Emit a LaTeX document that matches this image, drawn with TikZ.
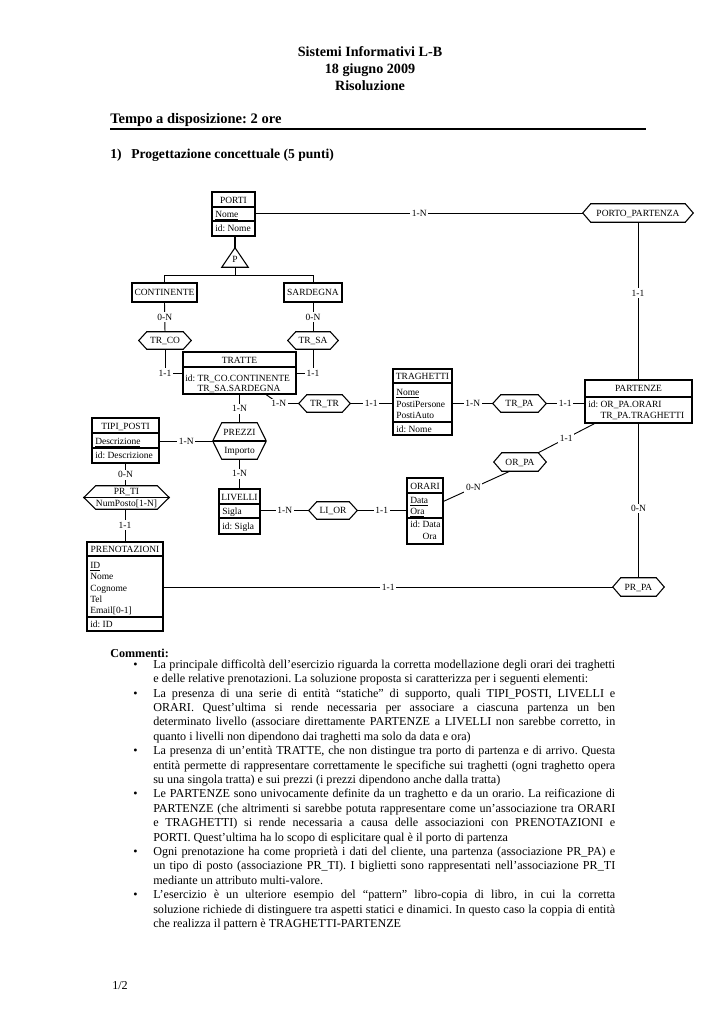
\documentclass[tikz,border=0pt]{standalone}
\usepackage{fontspec}
\setmainfont{Liberation Serif}
\usetikzlibrary{fit,calc}
\frenchspacing
\newcommand\dfont{\fontsize{7.1pt}{8.5pt}\selectfont}
\newcommand\bfont{\fontsize{9.1pt}{10.8pt}\selectfont}
\newcommand\bul{\leavevmode\llap{\makebox[15pt][l]{\textbullet}}}
\newcommand\entity[5]{\node[ent, fit={(#2,#3)(#4,#5)}] (#1) {};}
\newcommand\esep[2]{\draw[sepline] (#1.west |- 0,#2) -- (#1.east |- 0,#2);}
\newcommand\hexa[6]{%
  \node[fit={(#2,#4)(#3,#5)}] (#1) {};
  \draw[hexline] (#1.west) -- ($(#1.north west)+(#6,0)$) -- ($(#1.north east)+(-#6,0)$) -- (#1.east) -- ($(#1.south east)+(-#6,0)$) -- ($(#1.south west)+(#6,0)$) -- cycle;}
\begin{document}
\begin{tikzpicture}[x=0.75pt,y=-0.75pt,
  every node/.style={inner sep=0pt},
  dt/.style={font=\dfont, text height=4.8pt, text depth=0pt},
  ttl/.style={font=\fontsize{10.6pt}{12pt}\selectfont\bfseries, text height=7.2pt, text depth=0pt},
  hd/.style={font=\fontsize{10.9pt}{12pt}\selectfont\bfseries, text height=7.4pt, text depth=0pt},
  hdb/.style={font=\fontsize{10.2pt}{12pt}\selectfont\bfseries, text height=6.9pt, text depth=0pt},
  bt/.style={font=\bfont, text height=6.2pt, text depth=0pt},
  ent/.style={draw, line width=1.1pt, inner sep=0pt},
  sepline/.style={line width=0.8pt},
  conn/.style={line width=0.7pt},
  hexline/.style={line width=0.8pt},
  card/.style={dt, fill=white, inner xsep=1.2pt, inner ysep=1.2pt},
]
\fill[white] (0,0) rectangle (724,1024);
\useasboundingbox (0,0) rectangle (724,1024);

% ---------- header ----------
\node[ttl] (t1) at (370,52) {Sistemi Informativi L-B};
\node[ttl] (t2) at (370,69) {18 giugno 2009};
\node[ttl] (t3) at (370,86) {Risoluzione};
\node[hd, anchor=west] (tempo) at (110,119) {Tempo a disposizione: 2 ore};
\draw[line width=1.5pt] (110,129) -- (646,129);
\node[hdb, anchor=west] (num) at (110,154) {1)};
\node[hdb, anchor=west] (prog) at (131,154) {Progettazione concettuale (5 punti)};

% ---------- PORTI and hierarchy ----------
\entity{porti}{212}{192}{255}{236}
\esep{porti}{207}\esep{porti}{221}
\node[dt] (porti-h) at (233.5,200) {PORTI};
\node[dt, anchor=west] (porti-a) at (215,214) {\underline{Nome}};
\node[dt, anchor=west] (porti-i) at (215,228) {id: Nome};

\node[fit={(222,248)(248,267)}] (isa) {};
\draw[hexline] (isa.north) -- (isa.south east) -- (isa.south west) -- cycle;
\node[dt] (isa-p) at (235,259) {P};
\draw[line width=2.2pt] (isa.north |- porti.south) -- (isa.north);

\entity{cont}{132}{283}{197}{302}
\node[dt] (cont-h) at (164.5,292.5) {CONTINENTE};
\entity{sard}{284}{283}{342}{302}
\node[dt] (sard-h) at (313,292.5) {SARDEGNA};
\coordinate (hj) at (235,275);
\draw[conn] (isa.south) -- (hj);
\draw[conn] (cont.north |- hj) -- (sard.north |- hj);
\draw[conn] (cont.north |- hj) -- (cont.north);
\draw[conn] (sard.north |- hj) -- (sard.north);

% ---------- PORTO_PARTENZA ----------
\hexa{pp}{583}{693}{204}{222}{8}
\node[dt] (pp-t) at (638,213) {PORTO\_PARTENZA};

% ---------- TR_CO / TR_SA ----------
\hexa{trco}{139}{191}{332}{349}{8}
\node[dt] (trco-t) at (165,340.5) {TR\_CO};
\hexa{trsa}{288}{338}{332}{349}{8}
\node[dt] (trsa-t) at (313,340.5) {TR\_SA};

% ---------- TRATTE ----------
\entity{tratte}{183}{352}{296}{394}
\esep{tratte}{367}
\node[dt] (tratte-h) at (239.5,360) {TRATTE};
\node[dt, anchor=west] (tratte-i1) at (185,378) {id: TR\_CO.CONTINENTE};
\node[dt, anchor=west] (tratte-i2) at (185,388) {\phantom{id: }TR\_SA.SARDEGNA};

% ---------- PREZZI ----------
\hexa{prezzi}{213}{266}{423}{459}{9}
\draw[hexline] (prezzi.west) -- (prezzi.east);
\node[dt] (prezzi-t) at (239.5,432) {PREZZI};
\node[dt] (prezzi-a) at (239.5,450) {Importo};

% ---------- TR_TR ----------
\hexa{trtr}{299}{350}{395}{412}{8}
\node[dt] (trtr-t) at (324.5,403.5) {TR\_TR};

% ---------- TRAGHETTI ----------
\entity{trag}{393}{369}{452}{435}
\esep{trag}{383}\esep{trag}{422}
\node[dt] (trag-h) at (422.5,376) {TRAGHETTI};
\node[dt, anchor=west] (trag-a1) at (396,392) {\underline{Nome}};
\node[dt, anchor=west] (trag-a2) at (396,404) {PostiPersone};
\node[dt, anchor=west] (trag-a3) at (396,415) {PostiAuto};
\node[dt, anchor=west] (trag-i) at (396,429) {id: Nome};

% ---------- TR_PA ----------
\hexa{trpa}{493}{546}{395}{412}{8}
\node[dt] (trpa-t) at (519.5,403.5) {TR\_PA};

% ---------- PARTENZE ----------
\entity{part}{585}{380}{692}{423}
\esep{part}{397}
\node[dt] (part-h) at (638.5,388) {PARTENZE};
\node[dt, anchor=west] (part-i1) at (588,404) {id: OR\_PA.ORARI};
\node[dt, anchor=west] (part-i2) at (588,415) {\phantom{id: }TR\_PA.TRAGHETTI};

% ---------- OR_PA ----------
\hexa{orpa}{494}{546}{453}{471}{8}
\node[dt] (orpa-t) at (520,462) {OR\_PA};

% ---------- ORARI ----------
\entity{orari}{407}{478}{443}{544}
\esep{orari}{493}\esep{orari}{518}
\node[dt] (orari-h) at (425,486) {ORARI};
\node[dt, anchor=west] (orari-a1) at (410,500) {\underline{Data}};
\node[dt, anchor=west] (orari-a2) at (410,511) {\underline{Ora}};
\node[dt, anchor=west] (orari-i1) at (410,524) {id: Data};
\node[dt, anchor=west] (orari-i2) at (410,536) {\phantom{id: }Ora};

% ---------- TIPI_POSTI ----------
\entity{tipi}{92}{418}{159}{463}
\esep{tipi}{433}\esep{tipi}{448}
\node[dt] (tipi-h) at (125.5,426) {TIPI\_POSTI};
\node[dt, anchor=west] (tipi-a) at (95,441) {\underline{Descrizione}};
\node[dt, anchor=west] (tipi-i) at (95,455) {id: Descrizione};

% ---------- PR_TI ----------
\hexa{prti}{84}{169}{486}{509}{12}
\draw[hexline] (prti.west) -- (prti.east);
\node[dt] (prti-t) at (126.5,491.5) {PR\_TI};
\node[dt] (prti-a) at (126.5,503) {NumPosto[1-N]};

% ---------- LIVELLI ----------
\entity{liv}{219}{489}{260}{534}
\esep{liv}{504}\esep{liv}{518}
\node[dt] (liv-h) at (239.5,497) {LIVELLI};
\node[dt, anchor=west] (liv-a) at (222,511) {\underline{Sigla}};
\node[dt, anchor=west] (liv-i) at (222,526) {id: Sigla};

% ---------- LI_OR ----------
\hexa{lior}{309}{357}{502}{519}{8}
\node[dt] (lior-t) at (333,510.5) {LI\_OR};

% ---------- PRENOTAZIONI ----------
\entity{pren}{87}{542}{163}{631}
\esep{pren}{556}\esep{pren}{617}
\node[dt] (pren-h) at (125,549) {PRENOTAZIONI};
\node[dt, anchor=west] (pren-a1) at (90,565) {\underline{ID}};
\node[dt, anchor=west] (pren-a2) at (90,576) {Nome};
\node[dt, anchor=west] (pren-a3) at (90,588) {Cognome};
\node[dt, anchor=west] (pren-a4) at (90,599) {Tel};
\node[dt, anchor=west] (pren-a5) at (90,610) {Email[0-1]};
\node[dt, anchor=west] (pren-i) at (90,624) {id: ID};

% ---------- PR_PA ----------
\hexa{prpa}{613}{664}{578}{596}{8}
\node[dt] (prpa-t) at (638.5,587) {PR\_PA};

% ---------- connectors ----------
\draw[conn] (pp.west -| porti.east) -- (pp.west) node[card, midway] (l-pp1) {1-N};
\draw[conn] (pp.south) -- (pp.south |- part.north) node[card, pos=0.45] (l-pp2) {1-1};
\draw[conn] (cont.south) -- (trco.north) node[card, midway] (l-co1) {0-N};
\draw[conn] (sard.south) -- (trsa.north) node[card, midway] (l-sa1) {0-N};
\draw[conn] (trco.south) |- (tratte.west) node[card, pos=0.5] (l-co2) {1-1};
\draw[conn] (trsa.south) |- (tratte.east) node[card, pos=0.5] (l-sa2) {1-1};
\draw[conn] (tratte.south) -- (prezzi.north) node[card, midway] (l-pr1) {1-N};
\draw[conn] ($(tratte.south west)+(84,0)$) -- ($(trtr.west)+(-20,0)$) -- (trtr.west);
\node[card] (l-tr1) at ($(trtr.west)+(-20,0)$) {1-N};
\draw[conn] (trtr.east) -- (trtr.east -| trag.west) node[card, midway] (l-tr2) {1-1};
\draw[conn] (trpa.west -| trag.east) -- (trpa.west) node[card, midway] (l-tp1) {1-N};
\draw[conn] (trpa.east) -- (trpa.east -| part.west) node[card, midway] (l-tp2) {1-1};
\draw[conn] ($(part.south west)+(10,0)$) -- ($(orpa.north east)+(-8,0)$) node[card, midway] (l-op1) {1-1};
\draw[conn] ($(orpa.south west)+(16,0)$) -- ($(orari.north east)+(0,24)$) node[card, pos=0.55] (l-op2) {0-N};
\draw[conn] (part.south) -- (part.south |- prpa.north) node[card, pos=0.55] (l-pa) {0-N};
\draw[conn] (prpa.west -| pren.east) -- (prpa.west) node[card, midway] (l-pp) {1-1};
\draw[conn] (prezzi.west -| tipi.east) -- (prezzi.west) node[card, midway] (l-ti1) {1-N};
\draw[conn] (tipi.south) -- (tipi.south |- prti.north) node[card, midway] (l-ti2) {0-N};
\draw[conn] (pren.north |- prti.south) -- (pren.north) node[card, midway] (l-ti3) {1-1};
\draw[conn] (prezzi.south) -- (prezzi.south |- liv.north) node[card, midway] (l-pr2) {1-N};
\draw[conn] (lior.west -| liv.east) -- (lior.west) node[card, midway] (l-lo1) {1-N};
\draw[conn] (lior.east) -- (lior.east -| orari.west) node[card, midway] (l-lo2) {1-1};

% ---------- comments ----------
\node[bt, anchor=west, font=\bfont\bfseries] (comm) at (110,653) {Commenti:};
\node[anchor=north west, text width=346.5pt, align=justify, font=\bfont] (list) at (153,658) {%
\parindent=0pt \hyphenpenalty=10000 \exhyphenpenalty=10000 \frenchspacing
\strut\bul La principale difficoltà dell’esercizio riguarda la corretta modellazione degli orari dei traghetti\linebreak
e delle relative prenotazioni. La soluzione proposta si caratterizza per i seguenti elementi:\par
\bul La presenza di una serie di entità “statiche” di supporto, quali TIPI\_POSTI, LIVELLI e\linebreak
ORARI. Quest’ultima si rende necessaria per associare a ciascuna partenza un ben\linebreak
determinato livello (associare direttamente PARTENZE a LIVELLI non sarebbe corretto, in\linebreak
quanto i livelli non dipendono dai traghetti ma solo da data e ora)\par
\bul La presenza di un’entità TRATTE, che non distingue tra porto di partenza e di arrivo. Questa\linebreak
entità permette di rappresentare correttamente le specifiche sui traghetti (ogni traghetto opera\linebreak
su una singola tratta) e sui prezzi (i prezzi dipendono anche dalla tratta)\par
\bul Le PARTENZE sono univocamente definite da un traghetto e da un orario. La reificazione di\linebreak
PARTENZE (che altrimenti si sarebbe potuta rappresentare come un’associazione tra ORARI\linebreak
e TRAGHETTI) si rende necessaria a causa delle associazioni con PRENOTAZIONI e\linebreak
PORTI. Quest’ultima ha lo scopo di esplicitare qual è il porto di partenza\par
\bul Ogni prenotazione ha come proprietà i dati del cliente, una partenza (associazione PR\_PA) e\linebreak
un tipo di posto (associazione PR\_TI). I biglietti sono rappresentati nell’associazione PR\_TI\linebreak
mediante un attributo multi-valore.\par
\bul L’esercizio è un ulteriore esempio del “pattern” libro-copia di libro, in cui la corretta\linebreak
soluzione richiede di distinguere tra aspetti statici e dinamici. In questo caso la coppia di entità\linebreak
che realizza il pattern è TRAGHETTI-PARTENZE\par};
\node[bt, anchor=west] (page) at (112,985) {1/2};
\end{tikzpicture}
\end{document}
